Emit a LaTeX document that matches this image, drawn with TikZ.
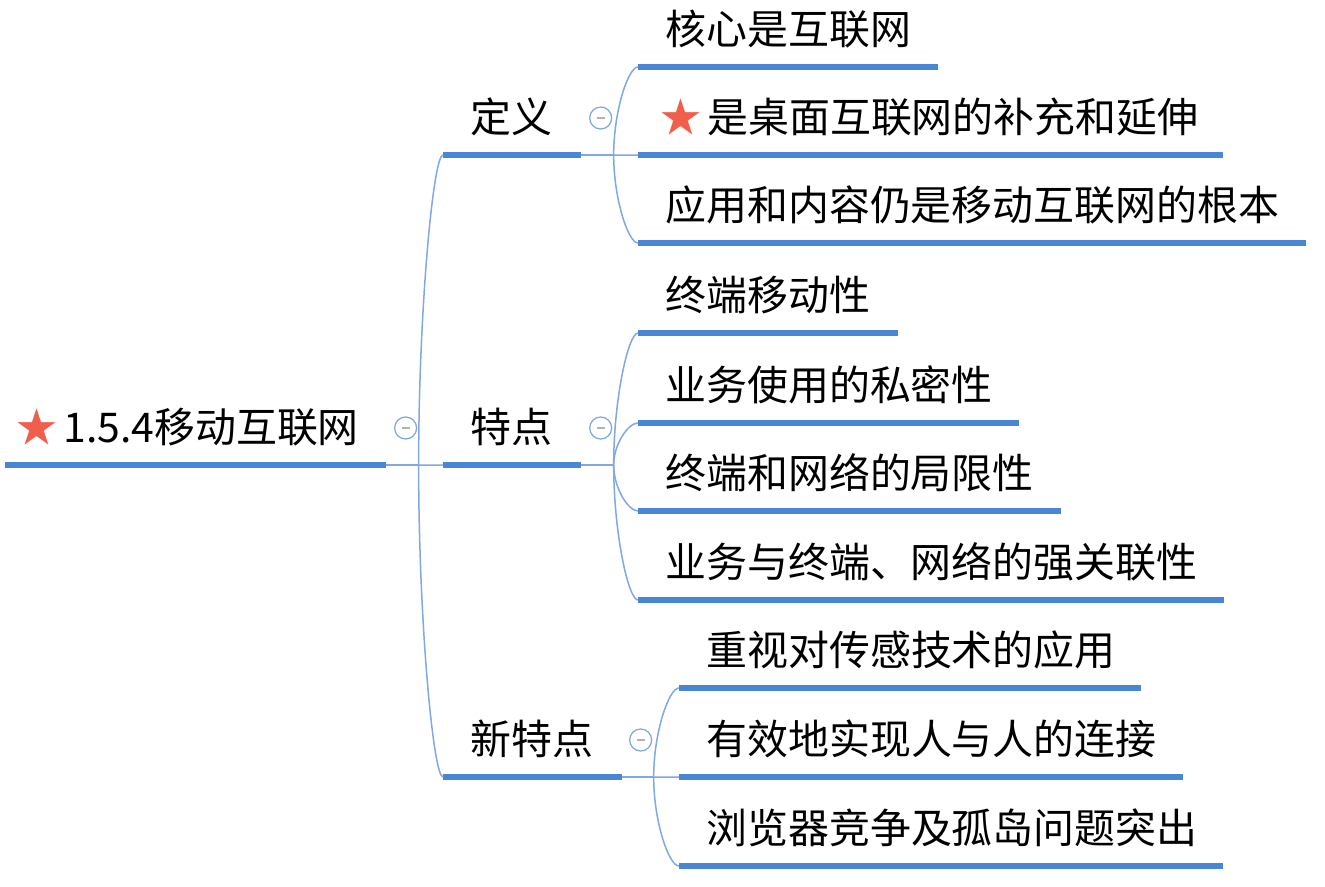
\documentclass[tikz,border=0pt]{standalone}
\usepackage{fontspec}
\setmainfont{Noto Sans CJK SC}
\usetikzlibrary{positioning,calc}

\definecolor{barblue}{RGB}{74,134,214}
\definecolor{linkblue}{RGB}{128,168,226}
\definecolor{starred}{RGB}{242,94,76}

\newcommand{\mistar}{\textcolor{starred}{★}\nobreak\hspace{0.12cm}\nobreak}

\tikzset{
  topic/.style={anchor=south west, inner xsep=0.54cm, inner ysep=0.44cm,
    text height=0.75cm, text depth=0pt, align=left,
    font=\fontsize{23.3pt}{28pt}\selectfont},
  bar/.style={line width=0.12cm, barblue},
  link/.style={line width=0.03cm, linkblue},
  branch/.style={to path={.. controls ($(\tikztostart)!0.5!(\tikztostart |- \tikztotarget)$)
    and ($(\tikztostart |- \tikztotarget)!0.6!(\tikztotarget)$) .. (\tikztotarget)}},
  fold/.style={circle, draw=linkblue, line width=0.025cm, minimum size=0.44cm,
    inner sep=0pt, fill=white,
    path picture={\draw[gray!60, line width=0.035cm]
      ([xshift=-0.08cm]path picture bounding box.center) --
      ([xshift=0.08cm]path picture bounding box.center);}},
}

\begin{document}
\begin{tikzpicture}[x=0.02cm, y=-0.02cm]
\useasboundingbox (0,0) rectangle (1325,886);

% Tema central
\node[topic, inner xsep=0.22cm, text width=7.16cm] (root) at (5,465)
  {\mistar 1.5.4移动互联网};

% Primer nivel
\node[topic, text width=1.66cm] (def) at (443,155) {定义};
\node[topic, text width=1.66cm] (feat) at (443,465) {特点};
\node[topic, text width=2.48cm] (newfeat) at (443,777) {新特点};

% Hijos de 定义
\node[topic, text width=4.9cm] (def1) at (638,67) {核心是互联网};
\node[topic, text width=10.6cm] (def2) at (638,155)
  {\hspace*{-0.1cm}\nobreak\mistar 是桌面互联网的补充和延伸};
\node[topic, text width=12.26cm] (def3) at (638,243) {应用和内容仍是移动互联网的根本};

% Hijos de 特点
\node[topic, text width=4.1cm] (feat1) at (638,333) {终端移动性};
\node[topic, text width=6.52cm] (feat2) at (638,423) {业务使用的私密性};
\node[topic, text width=7.36cm] (feat3) at (638,511) {终端和网络的局限性};
\node[topic, text width=10.62cm] (feat4) at (638,600) {业务与终端、网络的强关联性};

% Hijos de 新特点
\node[topic, text width=8.14cm] (new1) at (679,688) {重视对传感技术的应用};
\node[topic, text width=8.98cm] (new2) at (679,777) {有效地实现人与人的连接};
\node[topic, text width=9.78cm] (new3) at (679,866) {浏览器竞争及孤岛问题突出};

% Subrayados
\foreach \n in {root,def,feat,newfeat,def1,def2,def3,feat1,feat2,feat3,feat4,new1,new2,new3}
  \draw[bar] (\n.south west) -- (\n.south east);

% Puntos de ramificacion
\coordinate[right=0.66cm of root.south east] (jroot);
\coordinate[right=0.66cm of def.south east] (jdef);
\coordinate[right=0.66cm of feat.south east] (jfeat);
\coordinate[right=0.64cm of newfeat.south east] (jnew);

% Conectores
\draw[link] (root.south east) -- (jroot);
\draw[link] (def.south east) -- (jdef);
\draw[link] (feat.south east) -- (jfeat);
\draw[link] (newfeat.south east) -- (jnew);
\foreach \c in {def,feat,newfeat}
  \draw[link] (jroot) to[branch] (\c.south west);
\foreach \c in {def1,def2,def3}
  \draw[link] (jdef) to[branch] (\c.south west);
\foreach \c in {feat1,feat2,feat3,feat4}
  \draw[link] (jfeat) to[branch] (\c.south west);
\foreach \c in {new1,new2,new3}
  \draw[link] (jnew) to[branch] (\c.south west);

% Botones de plegado
\node[fold] (froot) at ([shift={(20,-37)}]root.south east) {};
\node[fold] (fdef) at ([shift={(20,-37)}]def.south east) {};
\node[fold] (ffeat) at ([shift={(20,-37)}]feat.south east) {};
\node[fold] (fnew) at ([shift={(19,-37)}]newfeat.south east) {};
\end{tikzpicture}
\end{document}
